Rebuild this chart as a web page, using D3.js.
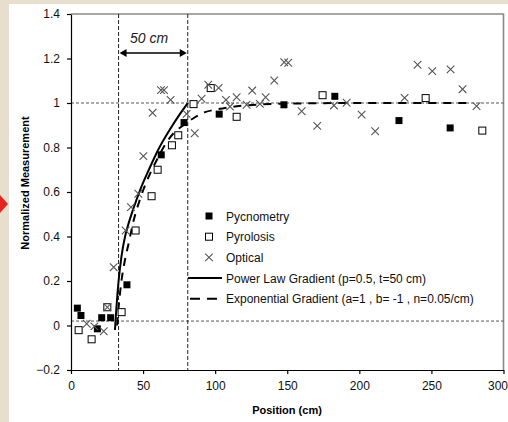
<!DOCTYPE html>
<html><head><meta charset="utf-8">
<script src="https://cdn.jsdelivr.net/npm/d3@7"></script>
<style>
html,body{margin:0;padding:0;background:#e7dece;}
svg{display:block;}
text{font-family:"Liberation Sans",Arial,sans-serif;}
</style></head>
<body><svg id="c" width="508" height="422"></svg>
<script>
// ---- data ----
const pycnometry = [[4.4,0.078],[6.9,0.045],[18.3,-0.015],[21.3,0.035],[27.5,0.035],[38.8,0.183],[62.6,0.767],[78.4,0.912],[102.8,0.95],[147.7,0.992],[183,1.03],[227.5,0.921],[263,0.888]];
const pyrolosis = [[5.3,-0.021],[14.3,-0.062],[25.2,0.082],[35.1,0.06],[44.8,0.427],[55.9,0.581],[60.1,0.70],[70,0.81],[74.4,0.855],[85,0.995],[96.9,1.067],[114.9,0.938],[174.5,1.035],[246,1.022],[285.3,0.876]];
const optical = [[10.9,0.008],[16.2,-0.004],[22.7,-0.026],[25.2,0.082],[29.6,0.262],[37.9,0.427],[41.6,0.532],[46.7,0.592],[50.2,0.761],[56.6,0.956],[62.4,1.058],[64.5,1.058],[69.1,1.014],[80.2,0.951],[85.8,0.864],[90.6,1.019],[95.2,1.082],[102.4,1.068],[107.5,1.014],[110.3,0.984],[114.9,1.026],[121.8,0.992],[125.7,1.056],[131,0.996],[135,1.026],[141,1.101],[147.9,1.183],[150.7,1.181],[160,0.963],[170.8,0.897],[182.4,0.989],[191.2,1.001],[201.6,0.948],[211,0.873],[231.4,1.023],[240.4,1.172],[250.6,1.143],[263.3,1.151],[271.6,1.062],[281.3,0.986]];
const powerLaw = [[30.5,-0.02],[31.5,0.08],[33,0.2],[35,0.31],[37.5,0.4],[40,0.46],[43,0.52],[48,0.61],[54,0.7],[60.5,0.79],[68.5,0.88],[75.5,0.95],[81,1.0]];
const expGrad = [[32,0],[33,0.08],[35,0.2],[37,0.28],[40,0.37],[43,0.46],[48,0.57],[54,0.67],[60,0.75],[66,0.82],[72,0.87],[78,0.9],[86,0.936],[93,0.959],[100,0.97],[115,0.985],[130,0.993],[150,0.997],[200,1.0],[278,1.0]];
const xTicks = [0,50,100,150,200,250,300];
const yTicks = [-0.2,0,0.2,0.4,0.6,0.8,1,1.2,1.4];
const refH = [1, 0.02];
const refV = [33, 81];
const legendLabels = ["Pycnometry","Pyrolosis","Optical","Power Law Gradient (p=0.5, t=50 cm)","Exponential Gradient (a=1 , b= -1 , n=0.05/cm)"];

// ---- chart ----
const svg = d3.select("#c");
svg.append("rect").attr("x",9).attr("y",4).attr("width",499).attr("height",418).attr("fill","#fff");
svg.append("path").attr("d","M0,195 L8,204 L0,213 Z").attr("fill","#e8231e");

const x = d3.scaleLinear().domain([0,300]).range([71,503.5]);
const y = d3.scaleLinear().domain([-0.2,1.4]).range([370,14]);

// frame top/right
svg.append("path").attr("d",`M${x(0)},${y(1.4)}H${x(300)}V${y(-0.2)}`).attr("fill","none").attr("stroke","#8a8a8a").attr("stroke-width",1.6);

// reference lines
svg.selectAll(".rh").data(refH).enter().append("line")
  .attr("x1",x(0)).attr("x2",x(300)).attr("y1",d=>y(d)).attr("y2",d=>y(d))
  .attr("stroke","#555").attr("stroke-width",1).attr("stroke-dasharray","3,2");
svg.selectAll(".rv").data(refV).enter().append("line")
  .attr("x1",d=>x(d)).attr("x2",d=>x(d)).attr("y1",y(1.4)).attr("y2",y(-0.2))
  .attr("stroke","#222").attr("stroke-width",1).attr("stroke-dasharray","4,2");

// axes
const fmt = d => (d===0? "0" : d3.format("~g")(d));
const gy = svg.append("g").attr("transform",`translate(${x(0)},0)`)
  .call(d3.axisLeft(y).tickValues(yTicks).tickSize(4).tickSizeOuter(0).tickFormat(fmt));
const gx = svg.append("g").attr("transform",`translate(0,${y(-0.2)})`)
  .call(d3.axisBottom(x).tickValues(xTicks).tickSize(4).tickSizeOuter(0));
[gx,gy].forEach(g=>{
  g.selectAll("path,line").attr("stroke","#000").attr("stroke-width",1.2);
  g.selectAll("text").attr("font-family","'Liberation Sans',Arial,sans-serif").attr("font-size",12).attr("fill","#111");
});
gy.selectAll("text").attr("dx",-4);
gx.selectAll("text").attr("dy","1.1em");
// keep the last x label inside the picture
gx.selectAll(".tick").filter(d=>d===300).select("text").attr("text-anchor","end").attr("x",4);

// axis titles
svg.append("text").attr("x",287).attr("y",414).attr("text-anchor","middle")
  .attr("font-size",11).attr("font-weight","bold").text("Position (cm)");
svg.append("text").attr("transform","translate(29,183) rotate(-90)").attr("text-anchor","middle")
  .attr("font-size",11).attr("font-weight","bold").text("Normalized Measurement");

// curves
const line = d3.line().x(d=>x(d[0])).y(d=>y(d[1])).curve(d3.curveMonotoneX);
svg.append("path").datum(expGrad).attr("d",line).attr("fill","none").attr("stroke","#000").attr("stroke-width",2).attr("stroke-dasharray","8,7");
svg.append("path").datum(powerLaw).attr("d",line).attr("fill","none").attr("stroke","#000").attr("stroke-width",2);

// markers
const sq = 7;
svg.selectAll(".py").data(pyrolosis).enter().append("rect")
  .attr("x",d=>x(d[0])-sq/2).attr("y",d=>y(d[1])-sq/2).attr("width",sq).attr("height",sq)
  .attr("fill","#fff").attr("stroke","#000").attr("stroke-width",1);
svg.selectAll(".pc").data(pycnometry).enter().append("rect")
  .attr("x",d=>x(d[0])-sq/2).attr("y",d=>y(d[1])-sq/2).attr("width",sq).attr("height",sq)
  .attr("fill","#000");
const xs = 3.8;
const xPath = (cx,cy)=>`M${cx-xs},${cy-xs}L${cx+xs},${cy+xs}M${cx-xs},${cy+xs}L${cx+xs},${cy-xs}`;
svg.selectAll(".op").data(optical).enter().append("path")
  .attr("d",d=>xPath(x(d[0]),y(d[1]))).attr("stroke","#555").attr("stroke-width",1.1).attr("fill","none");

// annotation
svg.append("text").attr("x",149).attr("y",43).attr("text-anchor","middle")
  .attr("font-size",14).attr("font-style","italic").attr("fill","#222").text("50 cm");
const ay = 53;
svg.append("line").attr("x1",x(refV[0])+6).attr("x2",x(refV[1])-6).attr("y1",ay).attr("y2",ay).attr("stroke","#000").attr("stroke-width",1.3);
svg.append("path").attr("d",`M${x(refV[0])+1},${ay}l7,-4v8z M${x(refV[1])-1},${ay}l-7,-4v8z`).attr("fill","#000");

// legend
const lx = 188, ly0 = 216, ldy = 20.7;
const lg = svg.append("g");
legendLabels.forEach((t,i)=>{
  lg.append("text").attr("x",226).attr("y",ly0+i*ldy+4.5).attr("font-size",12).attr("fill","#111").text(t);
});
lg.append("rect").attr("x",209-sq/2).attr("y",ly0-sq/2).attr("width",sq).attr("height",sq).attr("fill","#000");
lg.append("rect").attr("x",209-sq/2).attr("y",ly0+ldy-sq/2).attr("width",sq).attr("height",sq).attr("fill","#fff").attr("stroke","#000");
lg.append("path").attr("d",xPath(209,ly0+2*ldy)).attr("stroke","#555").attr("stroke-width",1.1);
lg.append("line").attr("x1",lx).attr("x2",222).attr("y1",ly0+3*ldy).attr("y2",ly0+3*ldy).attr("stroke","#000").attr("stroke-width",2);
lg.append("line").attr("x1",lx+2).attr("x2",222).attr("y1",ly0+4*ldy).attr("y2",ly0+4*ldy).attr("stroke","#000").attr("stroke-width",2).attr("stroke-dasharray","10,7");
</script></body></html>
